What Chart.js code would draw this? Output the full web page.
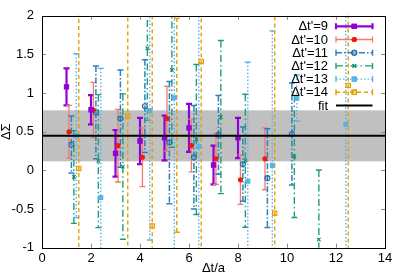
<!DOCTYPE html>
<html><head><meta charset="utf-8">
<script src="https://cdn.jsdelivr.net/npm/chart.js@4"></script>
<style>html,body{margin:0;padding:0;background:#fff}#wrap{width:399px;height:279px}</style>
</head><body><div id="wrap"><canvas id="c" width="399" height="279"></canvas></div>
<script>
// ---- data ----
const dtValues = [1, 2, 3, 4, 5, 6, 7, 8, 9, 10, 11, 12];
const seriesLabels = ["Δt'=9", "Δt'=10", "Δt'=11", "Δt'=12", "Δt'=13", "Δt'=14"];
const vals9  = [1.08, 0.785, 0.22, 0.38, 0.42, 0.55, 0.07, 0.42, null, null, null, null];
const errs9  = [0.24, 0.19, 0.30, 0.30, 0.29, 0.31, 0.25, 0.26, null, null, null, null];
const vals10 = [0.50, 0.78, 0.32, 0.17, 0.67, 0.32, 0.15, -0.12, 0.15, null, null, null];
const errs10 = [0.34, 0.36, 0.47, 0.38, 0.42, 0.34, 0.33, 0.32, 0.40, null, null, null];
const vals11 = [0.335, 0.75, 0.67, 0.83, 0.36, 0.17, 0.46, 0.08, -0.10, 0.47, null, null];
const errs11 = [0.37, 0.60, 0.63, 0.60, 0.79, 0.67, 0.51, 0.48, 0.64, 0.66, null, null];
const vals12 = [-0.085, 0.12, 0.05, 1.58, 1.30, 0.40, 0.69, 0.125, null, 0.18, -0.895, null];
const errs12 = [0.60, 0.86, 0.94, 0.93, 1.00, 0.97, 0.99, 0.86, null, 0.79, 0.90, null];
const vals13 = [0.45, -0.35, null, 0.77, 0.94, 0.31, null, -0.14, 0.065, 0.935, null, 0.595];
const errs13 = [1.06, 1.67, null, 1.67, 2.10, 2.50, null, 1.54, 1.74, 0.30, null, 2.80];
const vals14 = [0.025, null, 0.70, -0.72, 1.99, 1.41, null, null, -0.555, null, null, 1.10];
const errs14 = [3.20, null, 3.00, 3.00, 2.79, 3.00, null, null, 3.00, null, null, 3.00];
const fitValue = 0.447;
const fitError = 0.33;
const xTickValues = [0, 2, 4, 6, 8, 10, 12, 14];
const yTickValues = [-1, -0.5, 0, 0.5, 1, 1.5, 2];

// ---- styles ----
const FONT = "'Liberation Sans', Arial, sans-serif";
const styles = [
  {line: '#9400d3', pt: '#9400d3', fill: '#9400d3', width: 2.2, dash: [], shape: 'rect', r: 3, off: 0.0},
  {line: '#f07b70', pt: '#ee1a12', fill: '#ee1a12', width: 1.3, dash: [], shape: 'circle', r: 2, off: 0.1},
  {line: '#2a80c0', pt: '#1f72b0', fill: 'rgba(42,128,192,0.25)', width: 1.5, dash: [6, 2, 1.5, 2], shape: 'circle', r: 2.5, off: 0.2},
  {line: '#1a9e76', pt: '#0f9068', fill: '#1a9e76', width: 1.4, dash: [7, 3, 1.5, 3], shape: 'crossRot', r: 2.5, off: 0.3},
  {line: '#56b4e9', pt: '#56b4e9', fill: '#56b4e9', width: 1.4, dash: [1.5, 2], shape: 'rect', r: 2.8, off: 0.4},
  {line: '#e69f00', pt: '#e69f00', fill: 'rgba(230,159,0,0.25)', width: 1.4, dash: [4, 3], shape: 'rect', r: 3.1, off: 0.5}
];
const allVals = [vals9, vals10, vals11, vals12, vals13, vals14];
const allErrs = [errs9, errs10, errs11, errs12, errs13, errs14];

const datasets = allVals.map((vals, k) => {
  const st = styles[k];
  const pts = [], errs = [];
  dtValues.forEach((d, i) => {
    if (vals[i] !== null) { pts.push({x: d + st.off, y: vals[i]}); errs.push(allErrs[k][i]); }
  });
  return {
    label: seriesLabels[k], data: pts, errors: errs, st: st,
    showLine: false, pointStyle: st.shape, pointRadius: st.r, pointHoverRadius: st.r,
    pointBackgroundColor: st.fill, pointBorderColor: st.pt, pointBorderWidth: 1.1
  };
});
datasets.push({
  label: 'fit', type: 'line', order: -1,
  data: [{x: xTickValues[0], y: fitValue}, {x: xTickValues[xTickValues.length - 1], y: fitValue}],
  borderColor: '#000', borderWidth: 2, pointRadius: 0, showLine: true
});

function drawMarker(ctx, st, x, y) {
  ctx.save();
  ctx.setLineDash([]);
  ctx.lineWidth = 1.1;
  ctx.strokeStyle = st.pt; ctx.fillStyle = st.fill;
  Chart.helpers.drawPoint(ctx, {pointStyle: st.shape, radius: st.r, borderWidth: 1.1}, x, y);
  ctx.fill(); ctx.stroke();
  ctx.restore();
}

const bandAndErrors = {
  id: 'bandAndErrors',
  beforeDatasetsDraw(chart) {
    const {ctx, chartArea: a, scales: {x, y}} = chart;
    ctx.save();
    const yTop = y.getPixelForValue(fitValue + fitError), yBot = y.getPixelForValue(fitValue - fitError);
    ctx.fillStyle = '#c0c0c0';
    ctx.fillRect(a.left, yTop, a.right - a.left, yBot - yTop);
    ctx.beginPath(); ctx.rect(a.left, a.top, a.right - a.left, a.bottom - a.top); ctx.clip();
    chart.data.datasets.forEach(ds => {
      if (!ds.errors) return;
      const st = ds.st;
      ctx.strokeStyle = st.line; ctx.lineWidth = st.width;
      ds.data.forEach((p, j) => {
        const e = ds.errors[j];
        const px = x.getPixelForValue(p.x);
        const p1 = y.getPixelForValue(p.y + e), p2 = y.getPixelForValue(p.y - e);
        ctx.setLineDash(st.dash);
        ctx.beginPath(); ctx.moveTo(px, p1); ctx.lineTo(px, p2); ctx.stroke();
        ctx.setLineDash([]);
        ctx.beginPath();
        ctx.moveTo(px - 3, p1); ctx.lineTo(px + 3, p1);
        ctx.moveTo(px - 3, p2); ctx.lineTo(px + 3, p2);
        ctx.stroke();
      });
    });
    ctx.restore();
  },
  afterDraw(chart) {
    const {ctx, chartArea: a, scales: {x, y}} = chart;
    ctx.save();
    // inward ticks, mirrored
    ctx.strokeStyle = '#8a8a8a'; ctx.lineWidth = 1;
    ctx.beginPath();
    x.ticks.forEach(t => {
      const px = Math.round(x.getPixelForValue(t.value)) + 0.5;
      ctx.moveTo(px, a.bottom); ctx.lineTo(px, a.bottom - 4);
      ctx.moveTo(px, a.top); ctx.lineTo(px, a.top + 4);
    });
    y.ticks.forEach(t => {
      const py = Math.round(y.getPixelForValue(t.value)) + 0.5;
      ctx.moveTo(a.left, py); ctx.lineTo(a.left + 4, py);
      ctx.moveTo(a.right, py); ctx.lineTo(a.right - 4, py);
    });
    ctx.stroke();
    // frame
    ctx.strokeStyle = '#000'; ctx.lineWidth = 1;
    ctx.strokeRect(Math.round(a.left) + 0.5, Math.round(a.top) + 0.5, Math.round(a.right - a.left), Math.round(a.bottom - a.top));
    // legend
    ctx.font = '13px ' + FONT; ctx.fillStyle = '#000';
    ctx.textAlign = 'right'; ctx.textBaseline = 'middle';
    const rowY0 = a.top + 10.5, rowH = 13.2, textX = 328, l0 = 336, l1 = 372.5;
    chart.data.datasets.forEach((ds, k) => {
      const ry = rowY0 + k * rowH;
      ctx.fillText(ds.label, textX, ry + 0.5);
      if (ds.st) {
        const st = ds.st;
        ctx.strokeStyle = st.line; ctx.lineWidth = st.width;
        ctx.setLineDash(st.dash);
        ctx.beginPath(); ctx.moveTo(l0, ry); ctx.lineTo(l1, ry); ctx.stroke();
        ctx.setLineDash([]);
        ctx.beginPath(); ctx.moveTo(l0, ry - 3); ctx.lineTo(l0, ry + 3); ctx.moveTo(l1, ry - 3); ctx.lineTo(l1, ry + 3); ctx.stroke();
        drawMarker(ctx, st, (l0 + l1) / 2, ry);
      } else {
        ctx.strokeStyle = '#000'; ctx.lineWidth = 2; ctx.setLineDash([]);
        ctx.beginPath(); ctx.moveTo(l0, ry); ctx.lineTo(l1, ry); ctx.stroke();
      }
    });
    ctx.restore();
  }
};

new Chart(document.getElementById('c'), {
  type: 'scatter',
  data: {datasets},
  plugins: [bandAndErrors],
  options: {
    responsive: false, animation: false, devicePixelRatio: 1,
    layout: {padding: {top: 9.5, right: 14, left: 0, bottom: 0}},
    plugins: {legend: {display: false}, tooltip: {enabled: false}},
    scales: {
      x: {
        type: 'linear', min: 0, max: 14,
        afterBuildTicks: s => { s.ticks = xTickValues.map(v => ({value: v})); },
        afterFit: s => { s.height = 31.3; },
        grid: {display: false, drawTicks: false}, border: {display: false},
        ticks: {color: '#000', font: {family: FONT, size: 13}, padding: 3, maxRotation: 0, callback: v => String(v)},
        title: {display: true, text: 'Δt/a', color: '#000', font: {family: FONT, size: 13, lineHeight: 1}, padding: {top: 0, bottom: 4}}
      },
      y: {
        type: 'linear', min: -1, max: 2,
        afterBuildTicks: s => { s.ticks = yTickValues.map(v => ({value: v})); },
        afterFit: s => { s.width = 42; },
        grid: {display: false, drawTicks: false}, border: {display: false},
        ticks: {color: '#000', font: {family: FONT, size: 13}, padding: 8, callback: v => String(v)},
        title: {display: true, text: 'ΔΣ', color: '#000', font: {family: FONT, size: 13, lineHeight: 1}, padding: {top: 0, bottom: 0}}
      }
    }
  }
});
</script></body></html>
